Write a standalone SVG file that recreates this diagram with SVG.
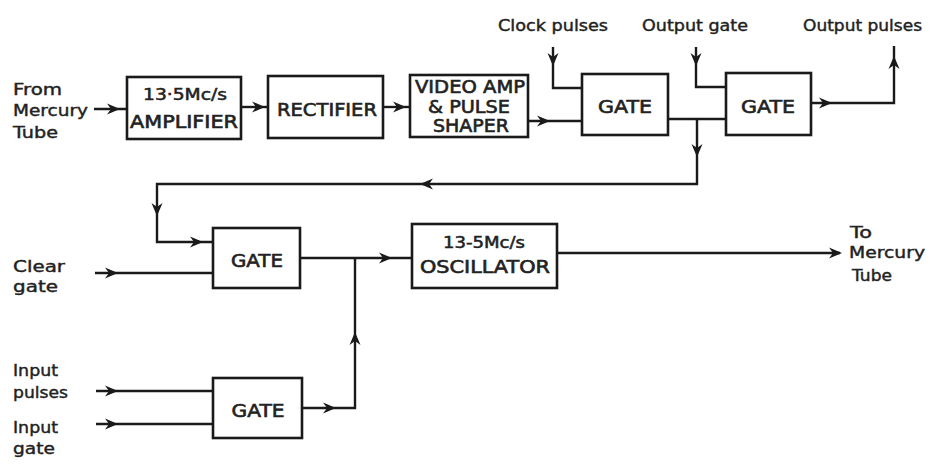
<svg xmlns="http://www.w3.org/2000/svg" xmlns:xlink="http://www.w3.org/1999/xlink" width="931" height="464" viewBox="0 0 931 464">
<style>
.box{fill:#fff;stroke:#1a1a1a;stroke-width:2.6}
.ln{fill:none;stroke:#1a1a1a;stroke-width:2.4;stroke-linejoin:miter}
.bt{font-family:"DejaVu Sans",sans-serif;font-size:17px;fill:#222;stroke:#222;stroke-width:0.6;text-anchor:middle}
.sm{font-family:"DejaVu Sans",sans-serif;font-size:15px;fill:#222;stroke:#222;stroke-width:0.5;text-anchor:middle}
.lb{font-family:"DejaVu Sans",sans-serif;font-size:15px;fill:#222;stroke:#222;stroke-width:0.4}
.ah{fill:#1a1a1a}
</style>
<defs>
<path id="ah" d="M0,0 L-13,-5.5 L-9,0 L-13,5.5 Z"/>
</defs>
<rect width="931" height="464" fill="#fff"/>

<g id="connectors">
<path class="ln" d="M94,109 H127"/>
<path class="ln" d="M241,107 H268"/>
<path class="ln" d="M383,107 H410"/>
<path class="ln" d="M528,121 H582"/>
<path class="ln" d="M553,47 V88 H582"/>
<path class="ln" d="M696,47 V87 H726"/>
<path class="ln" d="M668,119 H726"/>
<path class="ln" d="M697,119 V184 H157 V242 H213"/>
<path class="ln" d="M811,103 H894 V46"/>
<path class="ln" d="M95,273 H213"/>
<path class="ln" d="M300,258 H412"/>
<path class="ln" d="M302,408 H355 V258"/>
<path class="ln" d="M557,253 H840"/>
<path class="ln" d="M96,391 H213"/>
<path class="ln" d="M96,424 H213"/>
<g class="ah">
<use xlink:href="#ah" transform="translate(120,109)"/>
<use xlink:href="#ah" transform="translate(265,107)"/>
<use xlink:href="#ah" transform="translate(406,107)"/>
<use xlink:href="#ah" transform="translate(550,121)"/>
<use xlink:href="#ah" transform="translate(553,66) rotate(90)"/>
<use xlink:href="#ah" transform="translate(696,66) rotate(90)"/>
<use xlink:href="#ah" transform="translate(697,157) rotate(90)"/>
<use xlink:href="#ah" transform="translate(420,184) rotate(180)"/>
<use xlink:href="#ah" transform="translate(157,216) rotate(90)"/>
<use xlink:href="#ah" transform="translate(203,242)"/>
<use xlink:href="#ah" transform="translate(118,273)"/>
<use xlink:href="#ah" transform="translate(392,258)"/>
<use xlink:href="#ah" transform="translate(842,253)"/>
<use xlink:href="#ah" transform="translate(118,391)"/>
<use xlink:href="#ah" transform="translate(118,424)"/>
<use xlink:href="#ah" transform="translate(336,408)"/>
<use xlink:href="#ah" transform="translate(355,332) rotate(-90)"/>
<use xlink:href="#ah" transform="translate(832,103)"/>
<use xlink:href="#ah" transform="translate(894,56) rotate(-90)"/>
</g>
</g>

<g id="amplifier">
<rect class="box" x="127" y="77" width="114" height="62"/>
<text class="sm" x="185" y="100" textLength="84" lengthAdjust="spacingAndGlyphs">13·5Mc/s</text>
<text class="bt" x="184" y="128" textLength="108" lengthAdjust="spacingAndGlyphs">AMPLIFIER</text>
</g>
<g id="rectifier">
<rect class="box" x="268" y="76" width="115" height="62"/>
<text class="bt" x="327" y="116" textLength="100" lengthAdjust="spacingAndGlyphs">RECTIFIER</text>
</g>
<g id="video-amp">
<rect class="box" x="410" y="75" width="118" height="62"/>
<text class="bt" x="470" y="93" textLength="110" lengthAdjust="spacingAndGlyphs">VIDEO AMP</text>
<text class="bt" x="469" y="113" textLength="82" lengthAdjust="spacingAndGlyphs">&amp; PULSE</text>
<text class="bt" x="471" y="132" textLength="76" lengthAdjust="spacingAndGlyphs">SHAPER</text>
</g>
<g id="gate1">
<rect class="box" x="582" y="74" width="86" height="61"/>
<text class="bt" x="625" y="113" textLength="54" lengthAdjust="spacingAndGlyphs">GATE</text>
</g>
<g id="gate2">
<rect class="box" x="726" y="73" width="85" height="62"/>
<text class="bt" x="768" y="113" textLength="54" lengthAdjust="spacingAndGlyphs">GATE</text>
</g>
<g id="gate3">
<rect class="box" x="213" y="228" width="87" height="60"/>
<text class="bt" x="257" y="267" textLength="52" lengthAdjust="spacingAndGlyphs">GATE</text>
</g>
<g id="oscillator">
<rect class="box" x="412" y="224" width="145" height="64"/>
<text class="sm" x="484" y="248" textLength="82" lengthAdjust="spacingAndGlyphs">13-5Mc/s</text>
<text class="bt" x="485" y="273" textLength="130" lengthAdjust="spacingAndGlyphs">OSCILLATOR</text>
</g>
<g id="gate4">
<rect class="box" x="213" y="378" width="89" height="60"/>
<text class="bt" x="258" y="417" textLength="53" lengthAdjust="spacingAndGlyphs">GATE</text>
</g>

<g id="labels">
<text class="lb" x="13" y="95" textLength="49" lengthAdjust="spacingAndGlyphs">From</text>
<text class="lb" x="13" y="116" textLength="75" lengthAdjust="spacingAndGlyphs">Mercury</text>
<text class="lb" x="13" y="138" textLength="45" lengthAdjust="spacingAndGlyphs">Tube</text>
<text class="lb" x="498" y="31" textLength="110" lengthAdjust="spacingAndGlyphs">Clock pulses</text>
<text class="lb" x="642" y="31" textLength="106" lengthAdjust="spacingAndGlyphs">Output gate</text>
<text class="lb" x="803" y="31" textLength="119" lengthAdjust="spacingAndGlyphs">Output pulses</text>
<text class="lb" x="850" y="238" textLength="22" lengthAdjust="spacingAndGlyphs">To</text>
<text class="lb" x="849" y="258" textLength="76" lengthAdjust="spacingAndGlyphs">Mercury</text>
<text class="lb" x="852" y="281" textLength="40" lengthAdjust="spacingAndGlyphs">Tube</text>
<text class="lb" x="13" y="272" textLength="52" lengthAdjust="spacingAndGlyphs">Clear</text>
<text class="lb" x="13" y="292" textLength="45" lengthAdjust="spacingAndGlyphs">gate</text>
<text class="lb" x="13" y="376" textLength="45" lengthAdjust="spacingAndGlyphs">Input</text>
<text class="lb" x="13" y="398" textLength="55" lengthAdjust="spacingAndGlyphs">pulses</text>
<text class="lb" x="13" y="433" textLength="45" lengthAdjust="spacingAndGlyphs">Input</text>
<text class="lb" x="13" y="454" textLength="42" lengthAdjust="spacingAndGlyphs">gate</text>
</g>
</svg>
